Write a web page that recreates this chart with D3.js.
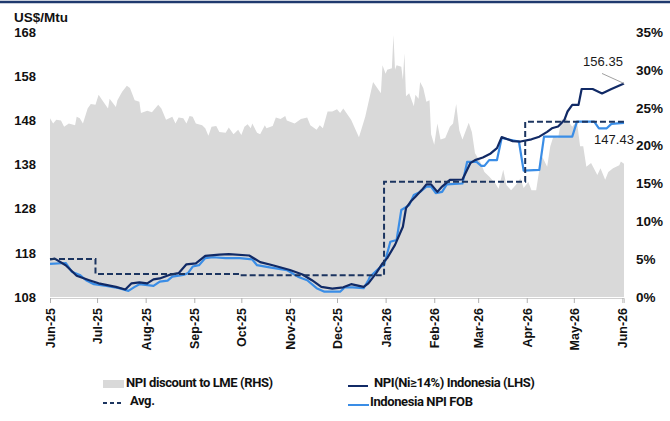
<!DOCTYPE html>
<html>
<head>
<meta charset="utf-8">
<script src="https://cdn.jsdelivr.net/npm/d3@7.9.0/dist/d3.min.js"></script>
<style>
  body { margin: 0; background: #fff; }
  svg { display: block; font-family: "Liberation Sans", Arial, sans-serif; }
  .legend text { font-family: "Liberation Sans Narrow", "Arial Narrow", "Roboto", sans-serif; font-weight: 700; font-size: 13px; letter-spacing: -0.4px; fill: #111; }
</style>
</head>
<body>
<svg id="chart" width="670" height="421"></svg>
<script>
// NPI discount to LME, % (RHS)
const discountDates = ['2025-06-01','2025-06-03','2025-06-05','2025-06-08','2025-06-10','2025-06-13','2025-06-17','2025-06-18','2025-06-20','2025-06-22','2025-06-25','2025-06-27','2025-06-30','2025-07-02','2025-07-05','2025-07-08','2025-07-09','2025-07-13','2025-07-14','2025-07-17','2025-07-20','2025-07-22','2025-07-25','2025-07-28','2025-07-29','2025-08-02','2025-08-05','2025-08-09','2025-08-11','2025-08-14','2025-08-18','2025-08-20','2025-08-22','2025-08-25','2025-08-27','2025-08-29','2025-08-31','2025-09-02','2025-09-06','2025-09-08','2025-09-10','2025-09-12','2025-09-15','2025-09-17','2025-09-21','2025-09-23','2025-09-26','2025-09-29','2025-10-01','2025-10-03','2025-10-05','2025-10-07','2025-10-08','2025-10-11','2025-10-13','2025-10-16','2025-10-17','2025-10-21','2025-10-23','2025-10-26','2025-10-29','2025-10-30','2025-11-04','2025-11-08','2025-11-12','2025-11-14','2025-11-18','2025-11-20','2025-11-22','2025-11-25','2025-11-28','2025-12-01','2025-12-03','2025-12-05','2025-12-10','2025-12-15','2025-12-19','2025-12-24','2025-12-26','2025-12-29','2025-12-30','2026-01-01','2026-01-02','2026-01-05','2026-01-06','2026-01-07','2026-01-08','2026-01-11','2026-01-12','2026-01-13','2026-01-14','2026-01-16','2026-01-19','2026-01-20','2026-01-22','2026-01-23','2026-01-25','2026-01-27','2026-01-29','2026-01-30','2026-02-01','2026-02-03','2026-02-05','2026-02-08','2026-02-11','2026-02-13','2026-02-15','2026-02-17','2026-02-19','2026-02-23','2026-02-25','2026-02-27','2026-03-02','2026-03-05','2026-03-08','2026-03-12','2026-03-14','2026-03-17','2026-03-19','2026-03-22','2026-03-25','2026-03-28','2026-03-30','2026-04-02','2026-04-04','2026-04-07','2026-04-09','2026-04-11','2026-04-14','2026-04-16','2026-04-18','2026-04-21','2026-04-23','2026-04-26','2026-04-30','2026-05-03','2026-05-05','2026-05-07','2026-05-09','2026-05-12','2026-05-16','2026-05-18','2026-05-21','2026-05-23','2026-05-26','2026-05-30','2026-05-31','2026-06-02'];
const discountValues = [23.6,22.9,23.4,23.3,22.5,22.9,22.7,23.8,23.6,22.9,24.9,25.5,25.4,26.7,25.8,24.9,26.2,25.1,26.0,27.1,27.9,27.6,26.0,25.8,24.3,24.6,24.4,25.4,24.9,23.4,23.8,22.9,23.7,23.6,22.9,23.9,23.8,22.9,22.7,22.3,21.3,22.5,22.6,21.8,21.7,22.4,21.5,22.1,21.4,22.5,22.8,22.3,22.9,21.7,21.5,22.7,22.3,22.6,23.7,23.5,23.9,23.3,22.9,23.5,23.7,22.7,22.1,22.7,22.3,24.5,24.5,24.8,24.3,24.9,23.4,21.1,23.8,28.4,27.8,26.9,30.6,29.5,30.0,30.2,34.6,30.0,30.6,30.4,28.7,32.2,26.5,26.9,25.2,26.7,26.2,28.4,27.6,25.8,26.0,21.5,20.1,22.9,20.8,21.0,22.5,22.9,25.5,22.0,20.8,23.0,21.8,19.0,18.0,16.5,15.9,15.0,14.3,16.8,14.8,14.1,14.8,15.7,14.4,15.2,14.1,14.1,16.8,18.5,17.2,19.9,21.2,21.0,23.4,23.6,22.5,23.2,19.9,19.9,17.2,17.7,16.1,17.0,15.5,16.5,17.0,17.4,17.9,17.6];

// NPI(Ni>=14%) Indonesia, US$/Mtu (LHS)
const npiDates = ['2025-06-01','2025-06-04','2025-06-11','2025-06-18','2025-06-26','2025-07-02','2025-07-13','2025-07-19','2025-07-23','2025-07-28','2025-08-02','2025-08-06','2025-08-10','2025-08-16','2025-08-22','2025-08-27','2025-09-02','2025-09-08','2025-09-17','2025-09-23','2025-10-06','2025-10-13','2025-10-21','2025-11-01','2025-11-09','2025-11-15','2025-11-21','2025-11-28','2025-12-05','2025-12-10','2025-12-18','2025-12-21','2025-12-26','2025-12-30','2026-01-02','2026-01-07','2026-01-12','2026-01-14','2026-01-17','2026-01-20','2026-01-24','2026-01-27','2026-01-30','2026-02-03','2026-02-06','2026-02-11','2026-02-19','2026-02-24','2026-02-27','2026-03-04','2026-03-09','2026-03-13','2026-03-16','2026-03-23','2026-03-28','2026-04-04','2026-04-09','2026-04-14','2026-04-17','2026-04-21','2026-04-25','2026-04-27','2026-04-30','2026-05-04','2026-05-06','2026-05-13','2026-05-19','2026-05-25','2026-06-02'];
const npiValues = [116.5,116.7,115.2,112.8,111.8,111.1,110.3,109.7,111.1,111.3,111.1,112.0,112.2,113.0,113.4,115.4,115.6,117.3,117.6,117.7,117.4,115.9,115.2,114.1,113.1,111.8,110.3,109.9,110.2,110.9,110.3,111.1,113.4,115.6,116.8,119.8,123.9,128.1,129.6,130.7,132.2,133.5,133.5,131.8,133.0,134.5,134.6,138.3,139.0,139.6,140.5,141.7,144.2,143.3,143.2,143.7,144.3,145.4,146.2,146.6,148.1,150.0,151.5,151.5,155.1,155.1,154.1,155.1,156.35];

// Indonesia NPI FOB, US$/Mtu (LHS)
const fobDates = ['2025-06-01','2025-06-11','2025-06-15','2025-06-20','2025-06-24','2025-06-29','2025-07-07','2025-07-15','2025-07-21','2025-07-25','2025-07-28','2025-08-06','2025-08-10','2025-08-15','2025-08-18','2025-08-25','2025-08-28','2025-08-31','2025-09-04','2025-09-08','2025-09-13','2025-09-21','2025-09-30','2025-10-08','2025-10-11','2025-10-19','2025-10-30','2025-11-06','2025-11-12','2025-11-18','2025-11-23','2025-12-03','2025-12-06','2025-12-11','2025-12-18','2025-12-21','2025-12-22','2025-12-29','2025-12-31','2026-01-04','2026-01-08','2026-01-11','2026-01-16','2026-01-19','2026-01-23','2026-01-27','2026-01-30','2026-02-02','2026-02-06','2026-02-09','2026-02-19','2026-02-22','2026-02-28','2026-03-03','2026-03-05','2026-03-08','2026-03-13','2026-03-16','2026-03-23','2026-03-27','2026-03-30','2026-04-09','2026-04-12','2026-04-30','2026-05-03','2026-05-14','2026-05-17','2026-05-22','2026-05-25','2026-06-02'];
const fobValues = [115.5,115.7,113.7,113.0,111.8,110.9,110.5,110.0,109.4,110.3,110.9,110.5,111.5,111.7,112.6,113.0,113.4,114.9,115.2,116.8,117.0,116.8,116.8,116.5,115.2,114.7,114.1,112.6,111.8,110.0,109.2,109.2,110.2,110.2,110.0,111.8,112.6,114.9,115.2,120.5,120.9,127.7,128.8,131.1,131.8,133.0,133.0,131.5,131.8,133.5,133.7,138.6,138.6,137.7,137.7,139.0,139.0,144.0,143.5,143.2,136.6,136.8,144.3,144.3,147.7,147.7,146.2,146.2,147.2,147.43];

// Avg. (period averages, step line)
const avgDates = ['2025-06-01','2025-06-30','2025-09-30','2025-12-31','2026-03-31','2026-06-02'];
const avgValues = [116.6,113.2,112.9,134.1,147.7,147.7];

const leftTicks = [108,118,128,138,148,158,168];
const rightTicks = [0,5,10,15,20,25,30,35];

const parse = d3.timeParse('%Y-%m-%d');
const zip = (ds, vs) => ds.map((d, i) => ({ date: parse(d), value: vs[i] }));
const discount = zip(discountDates, discountValues);
const npi = zip(npiDates, npiValues);
const fob = zip(fobDates, fobValues);
const avg = zip(avgDates, avgValues);

const svg = d3.select('#chart');

const x = d3.scaleTime()
    .domain([parse('2025-06-01'), parse('2026-06-02')])
    .range([50, 624]);
const yL = d3.scaleLinear().domain([108, 168]).range([297, 32]);
const yR = d3.scaleLinear().domain([0, 35]).range([297, 32]);

// top rule
svg.append('line')
    .attr('x1', 0).attr('x2', 670).attr('y1', 2).attr('y2', 2)
    .attr('stroke', '#1f3a6e').attr('stroke-width', 2.5);

// discount area
svg.append('path')
    .datum(discount)
    .attr('fill', '#d9d9d9')
    .attr('d', d3.area().x(d => x(d.date)).y0(yR(0)).y1(d => yR(d.value)));

// x axis
const xAxis = svg.append('g')
    .attr('transform', 'translate(0,298)')
    .call(d3.axisBottom(x).ticks(d3.timeMonth.every(1)).tickFormat(d3.timeFormat('%b-%y')).tickSize(5));
xAxis.select('.domain').attr('stroke', '#d0d0d0');
xAxis.selectAll('.tick line').attr('stroke', '#b0b0b0');
xAxis.selectAll('.tick text')
    .attr('transform', 'rotate(-90)')
    .attr('text-anchor', 'end')
    .attr('x', -10).attr('y', 0).attr('dy', '0.36em')
    .attr('font-size', 12.5).attr('font-weight', 700)
    .attr('font-family', '"Liberation Sans", Arial, sans-serif')
    .attr('fill', '#111');

// left axis
const leftAxis = svg.append('g')
    .attr('transform', 'translate(36,0)')
    .call(d3.axisLeft(yL).tickValues(leftTicks).tickSize(0).tickPadding(0));
leftAxis.select('.domain').remove();
leftAxis.selectAll('text')
    .attr('font-size', 13).attr('font-weight', 700)
    .attr('font-family', '"Liberation Sans", Arial, sans-serif').attr('fill', '#111');

// right axis
const rightAxis = svg.append('g')
    .attr('transform', 'translate(636,0)')
    .call(d3.axisRight(yR).tickValues(rightTicks).tickFormat(d => d + '%').tickSize(0).tickPadding(0));
rightAxis.select('.domain').remove();
rightAxis.selectAll('text')
    .attr('font-size', 13.5).attr('font-weight', 700)
    .attr('font-family', '"Liberation Sans", Arial, sans-serif').attr('fill', '#111');

svg.append('text')
    .attr('x', 14).attr('y', 22)
    .attr('font-size', 13.5).attr('font-weight', 700).attr('fill', '#111')
    .text('US$/Mtu');

const line = d3.line().x(d => x(d.date)).y(d => yL(d.value));

svg.append('path').datum(fob)
    .attr('fill', 'none').attr('stroke', '#3a8de6').attr('stroke-width', 2.2)
    .attr('stroke-linejoin', 'round')
    .attr('d', line);

svg.append('path').datum(npi)
    .attr('fill', 'none').attr('stroke', '#112a66').attr('stroke-width', 2.2)
    .attr('stroke-linejoin', 'round')
    .attr('d', line);

svg.append('path').datum(avg)
    .attr('fill', 'none').attr('stroke', '#1c3560').attr('stroke-width', 2)
    .attr('stroke-dasharray', '6,3')
    .attr('d', line.curve(d3.curveStepAfter));

// end labels
const lastNpi = npi[npi.length - 1];
const lastFob = fob[fob.length - 1];
svg.append('line')
    .attr('x1', x(lastNpi.date) - 22).attr('y1', yL(lastNpi.value) - 10)
    .attr('x2', x(lastNpi.date)).attr('y2', yL(lastNpi.value))
    .attr('stroke', '#a0a0a0').attr('stroke-width', 1);
svg.append('text')
    .attr('x', x(lastNpi.date) - 21).attr('y', yL(lastNpi.value) - 21)
    .attr('text-anchor', 'middle').attr('dominant-baseline', 'middle')
    .attr('font-size', 13).attr('fill', '#1a1a1a')
    .text(d3.format('.2f')(lastNpi.value));
svg.append('text')
    .attr('x', x(lastFob.date) - 10).attr('y', yL(lastFob.value) + 18)
    .attr('text-anchor', 'middle').attr('dominant-baseline', 'middle')
    .attr('font-size', 13).attr('fill', '#1a1a1a')
    .text(d3.format('.2f')(lastFob.value));

// legend
const legend = svg.append('g').attr('class', 'legend');
legend.append('rect').attr('x', 103).attr('y', 380).attr('width', 21).attr('height', 8).attr('fill', '#d9d9d9');
legend.append('text').attr('x', 126).attr('y', 384).attr('dominant-baseline', 'middle').text('NPI discount to LME (RHS)');
legend.append('line').attr('x1', 348).attr('x2', 368).attr('y1', 386).attr('y2', 386)
    .attr('stroke', '#112a66').attr('stroke-width', 2);
legend.append('text').attr('x', 374).attr('y', 384).attr('dominant-baseline', 'middle').text('NPI(Ni≥14%) Indonesia (LHS)');
legend.append('line').attr('x1', 103).attr('x2', 121).attr('y1', 403).attr('y2', 403)
    .attr('stroke', '#1c3560').attr('stroke-width', 2).attr('stroke-dasharray', '4,3');
legend.append('text').attr('x', 130).attr('y', 402).attr('dominant-baseline', 'middle').text('Avg.');
legend.append('line').attr('x1', 348).attr('x2', 369).attr('y1', 405).attr('y2', 405)
    .attr('stroke', '#3a8de6').attr('stroke-width', 2);
legend.append('text').attr('x', 370).attr('y', 403).attr('dominant-baseline', 'middle').text('Indonesia NPI FOB');
</script>
</body>
</html>
